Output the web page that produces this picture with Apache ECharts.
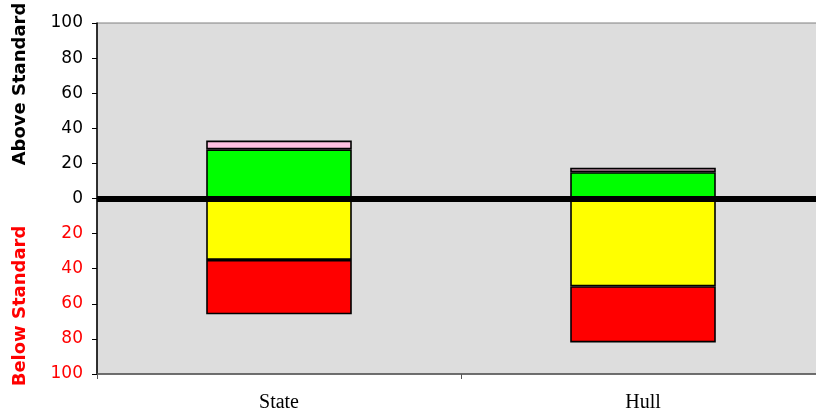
<!DOCTYPE html>
<html>
<head>
<meta charset="utf-8">
<script src="https://cdn.jsdelivr.net/npm/echarts@6/dist/echarts.min.js"></script>
<style>
  html, body { margin: 0; padding: 0; background: #ffffff; }
  #chart { width: 816px; height: 419px; }
</style>
</head>
<body>
<div id="chart"></div>
<script>
// Groups shown along the x axis
const categories = ['State', 'Hull'];

// Percent of students above standard (stacked upward)
const aboveGreen = [28, 15];
const abovePink = [5, 2.5];

// Percent of students below standard (stacked downward)
const belowYellow = [35, 50];
const belowRed = [31, 32];

// Value axis ticks, shown as magnitudes on both sides of zero
const yTicks = [-100, -80, -60, -40, -20, 0, 20, 40, 60, 80, 100];

const chart = echarts.init(document.getElementById('chart'), null, { renderer: 'canvas' });

const barBorder = { borderColor: '#000000', borderWidth: 1.6 };
const tickFont = '"DejaVu Sans", Arial, sans-serif';

chart.setOption({
  animation: false,
  backgroundColor: '#ffffff',
  grid: {
    left: 97, top: 23, width: 728, height: 351,
    containLabel: false,
    outerBoundsMode: 'none',
    show: true, backgroundColor: '#DDDDDD', borderColor: '#808080', borderWidth: 1
  },
  xAxis: {
    type: 'category',
    data: categories,
    position: 'bottom',
    axisLine: { onZero: false, lineStyle: { color: '#555555', width: 1.5 } },
    axisTick: { show: true, length: 5, lineStyle: { color: '#555555' } },
    axisLabel: {
      margin: 19,
      fontFamily: '"Liberation Serif", "Times New Roman", serif',
      fontSize: 20,
      color: '#000000'
    },
    splitLine: { show: false }
  },
  yAxis: {
    type: 'value',
    min: yTicks[0],
    max: yTicks[yTicks.length - 1],
    interval: 20,
    axisLine: { show: true, lineStyle: { color: '#000000', width: 1.5 } },
    axisTick: { show: true, length: 5, lineStyle: { color: '#000000' } },
    splitLine: { show: false },
    axisLabel: {
      margin: 14,
      formatter: function (v) {
        return v < 0 ? '{neg|' + Math.abs(v) + '}' : '{pos|' + v + '}';
      },
      rich: {
        pos: { color: '#000000', fontSize: 17, fontFamily: tickFont },
        neg: { color: '#FF0000', fontSize: 17, fontFamily: tickFont }
      }
    }
  },
  series: [
    {
      name: 'Above (green)', type: 'bar', stack: 'score', barWidth: '40%',
      data: aboveGreen,
      itemStyle: Object.assign({ color: '#00FF00' }, barBorder)
    },
    {
      name: 'Above (pink)', type: 'bar', stack: 'score',
      data: abovePink,
      itemStyle: Object.assign({ color: '#FFC0E0' }, barBorder)
    },
    {
      name: 'Below (yellow)', type: 'bar', stack: 'score',
      data: belowYellow.map(v => -v),
      itemStyle: Object.assign({ color: '#FFFF00' }, barBorder)
    },
    {
      name: 'Below (red)', type: 'bar', stack: 'score',
      data: belowRed.map(v => -v),
      itemStyle: Object.assign({ color: '#FF0000' }, barBorder),
      markLine: {
        silent: true,
        symbol: 'none',
        label: { show: false },
        lineStyle: { color: '#000000', width: 6, type: 'solid' },
        data: [{ yAxis: 0 }],
        z: 10
      }
    }
  ],
  graphic: [
    {
      type: 'text', x: 20, y: 84, rotation: Math.PI / 2,
      style: {
        text: 'Above Standard', fill: '#000000',
        font: 'bold 18px "DejaVu Sans", Arial, sans-serif',
        align: 'center', verticalAlign: 'middle'
      }
    },
    {
      type: 'text', x: 20, y: 306, rotation: Math.PI / 2,
      style: {
        text: 'Below Standard', fill: '#FF0000',
        font: 'bold 18px "DejaVu Sans", Arial, sans-serif',
        align: 'center', verticalAlign: 'middle'
      }
    }
  ]
});
</script>
</body>
</html>
